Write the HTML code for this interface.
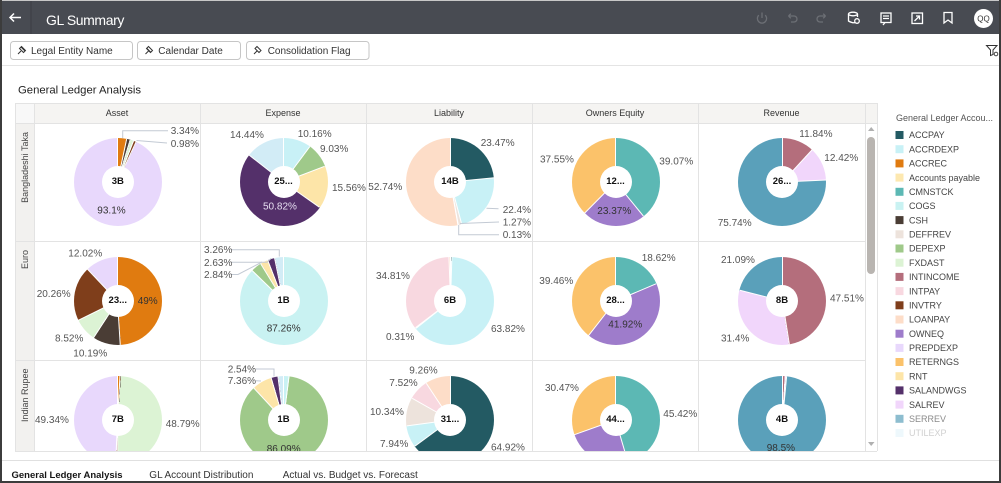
<!DOCTYPE html>
<html><head><meta charset="utf-8">
<style>
html,body{margin:0;padding:0}
body{width:1001px;height:483px;position:relative;overflow:hidden;background:#fff;font-family:"Liberation Sans",sans-serif}
#pies{position:absolute;left:0;top:0;width:877px;height:451px;overflow:hidden;z-index:1}
.pie{position:absolute;width:88px;height:88px;border-radius:50%}
.pie i{position:absolute;left:43.5px;top:0;width:1px;height:44px;background:#fff;transform-origin:50% 100%}
.pie b{position:absolute;left:28px;top:28px;width:32px;height:32px;border-radius:50%;background:#fff;font:bold 9.5px/32px "Liberation Sans",sans-serif;text-align:center;color:#111}
svg{position:absolute;left:0;top:0;z-index:2}
.l{font-size:10px;fill:#555}
.d{font-size:10px;fill:#333}
.w{font-size:10px;fill:#e6def0}
.lg{font-size:9px;fill:#444}
.ch{font-size:9px;fill:#333}
.ln{fill:none;stroke:#c3cad4;stroke-width:1}
</style></head><body>

<div id="pies">
<!-- Row 1 -->
<div class="pie" style="left:73.8px;top:138px;background:conic-gradient(#e07b10 0 3.34%,#4a3d35 0 4.64%,#dcf3d4 0 5.92%,#7f3e1b 0 6.9%,#e8d8fc 0)"><i style="transform:rotate(0deg)"></i><i style="transform:rotate(12.02deg)"></i><i style="transform:rotate(16.7deg)"></i><i style="transform:rotate(21.31deg)"></i><i style="transform:rotate(24.84deg)"></i><b>3B</b></div>
<div class="pie" style="left:239.5px;top:138px;background:conic-gradient(#c8f1f6 0 10.16%,#9fc98a 0 19.19%,#fde5a8 0 34.75%,#54306a 0 85.57%,#d2ecf6 0)"><i style="transform:rotate(0deg)"></i><i style="transform:rotate(36.58deg)"></i><i style="transform:rotate(69.08deg)"></i><i style="transform:rotate(125.1deg)"></i><i style="transform:rotate(308.05deg)"></i><b>25...</b></div>
<div class="pie" style="left:406px;top:138px;background:conic-gradient(#235a63 0 23.47%,#c8f1f6 0 45.87%,#ede3dc 0 47.14%,#f8d8e0 0 47.27%,#fdddc8 0)"><i style="transform:rotate(0deg)"></i><i style="transform:rotate(84.49deg)"></i><i style="transform:rotate(165.13deg)"></i><i style="transform:rotate(169.7deg)"></i><i style="transform:rotate(170.17deg)"></i><b>14B</b></div>
<div class="pie" style="left:571.5px;top:138px;background:conic-gradient(#5cb8b4 0 39.07%,#9e7ccb 0 62.44%,#fbc26a 0)"><i style="transform:rotate(0deg)"></i><i style="transform:rotate(140.65deg)"></i><i style="transform:rotate(224.78deg)"></i><b>12...</b></div>
<div class="pie" style="left:738px;top:138px;background:conic-gradient(#b46e7c 0 11.84%,#f1d6fb 0 24.26%,#5aa0ba 0)"><i style="transform:rotate(0deg)"></i><i style="transform:rotate(42.62deg)"></i><i style="transform:rotate(87.34deg)"></i><b>26...</b></div>
<!-- Row 2 -->
<div class="pie" style="left:73.8px;top:256.5px;background:conic-gradient(#e07b10 0 49%,#4a3d35 0 59.19%,#dcf3d4 0 67.71%,#7f3e1b 0 87.97%,#e8d8fc 0)"><i style="transform:rotate(0deg)"></i><i style="transform:rotate(176.4deg)"></i><i style="transform:rotate(213.08deg)"></i><i style="transform:rotate(243.76deg)"></i><i style="transform:rotate(316.69deg)"></i><b>23...</b></div>
<div class="pie" style="left:239.5px;top:256.5px;background:conic-gradient(#c9f2f2 0 87.26%,#9fc98a 0 91.27%,#fde5a8 0 94.11%,#54306a 0 96.74%,#d2ecf6 0)"><i style="transform:rotate(0deg)"></i><i style="transform:rotate(314.14deg)"></i><i style="transform:rotate(328.57deg)"></i><i style="transform:rotate(338.8deg)"></i><i style="transform:rotate(348.26deg)"></i><b>1B</b></div>
<div class="pie" style="left:406px;top:256.5px;background:conic-gradient(#235a63 0 0.5%,#c8f1f6 0 64.32%,#ede3dc 0 64.63%,#f8d8e0 0 99.44%,#fdddc8 0)"><i style="transform:rotate(0deg)"></i><i style="transform:rotate(1.8deg)"></i><i style="transform:rotate(231.55deg)"></i><i style="transform:rotate(232.67deg)"></i><i style="transform:rotate(357.98deg)"></i><b>6B</b></div>
<div class="pie" style="left:571.5px;top:256.5px;background:conic-gradient(#5cb8b4 0 18.62%,#9e7ccb 0 60.54%,#fbc26a 0)"><i style="transform:rotate(0deg)"></i><i style="transform:rotate(67.03deg)"></i><i style="transform:rotate(217.94deg)"></i><b>28...</b></div>
<div class="pie" style="left:738px;top:256.5px;background:conic-gradient(#b46e7c 0 47.51%,#f1d6fb 0 78.91%,#5aa0ba 0)"><i style="transform:rotate(0deg)"></i><i style="transform:rotate(171.04deg)"></i><i style="transform:rotate(284.08deg)"></i><b>8B</b></div>
<!-- Row 3 -->
<div class="pie" style="left:73.8px;top:376px;background:conic-gradient(#e07b10 0 0.9%,#4a3d35 0 1.1%,#dcf3d4 0 49.89%,#7f3e1b 0 50.66%,#e8d8fc 0)"><i style="transform:rotate(0deg)"></i><i style="transform:rotate(3.24deg)"></i><i style="transform:rotate(179.6deg)"></i><i style="transform:rotate(182.38deg)"></i><b>7B</b></div>
<div class="pie" style="left:239.5px;top:376px;background:conic-gradient(#c8f1f6 0 0.5%,#c9f2f2 0 2%,#9fc98a 0 88.09%,#fde5a8 0 95.45%,#54306a 0 97.99%,#d2ecf6 0)"><i style="transform:rotate(0deg)"></i><i style="transform:rotate(7.2deg)"></i><i style="transform:rotate(317.12deg)"></i><i style="transform:rotate(343.62deg)"></i><i style="transform:rotate(352.76deg)"></i><b>1B</b></div>
<div class="pie" style="left:406px;top:376px;background:conic-gradient(#235a63 0 64.92%,#c8f1f6 0 72.86%,#ede3dc 0 83.2%,#f8d8e0 0 90.72%,#fdddc8 0)"><i style="transform:rotate(0deg)"></i><i style="transform:rotate(233.71deg)"></i><i style="transform:rotate(262.3deg)"></i><i style="transform:rotate(299.52deg)"></i><i style="transform:rotate(326.59deg)"></i><b>31...</b></div>
<div class="pie" style="left:571.5px;top:376px;background:conic-gradient(#5cb8b4 0 45.42%,#9e7ccb 0 69.53%,#fbc26a 0)"><i style="transform:rotate(0deg)"></i><i style="transform:rotate(163.51deg)"></i><i style="transform:rotate(250.31deg)"></i><b>44...</b></div>
<div class="pie" style="left:738px;top:376px;background:conic-gradient(#b46e7c 0 1%,#f1d6fb 0 1.5%,#5aa0ba 0)"><i style="transform:rotate(0deg)"></i><i style="transform:rotate(3.6deg)"></i><i style="transform:rotate(5.4deg)"></i><b>4B</b></div>
</div>

<svg width="1001" height="483" viewBox="0 0 1001 483" xmlns="http://www.w3.org/2000/svg" font-family="Liberation Sans, sans-serif">
<defs><clipPath id="gc"><rect x="15" y="123" width="862" height="328"/></clipPath></defs>

<!-- Header -->
<rect x="0" y="0" width="1001" height="1" fill="#c8c8c8"/>
<rect x="0" y="1" width="1001" height="33" fill="#484b52"/>
<line x1="31" y1="1" x2="31" y2="34" stroke="#3c3e44" stroke-width="1"/>
<path d="M10,17.5 H21 M14,13.5 L10,17.5 L14,21.5" fill="none" stroke="#fff" stroke-width="1.5"/>
<text x="46" y="25" font-size="14" fill="#fff" letter-spacing="-0.4">GL Summary</text>
<!-- header icons -->
<g fill="none" stroke="#6c6f75" stroke-width="1.3">
<path d="M758.8,15.2 A4.6,4.6 0 1 0 765.2,15.2"/><line x1="762" y1="12.5" x2="762" y2="18"/>
<path d="M788.5,16 H794 A3,3 0 0 1 794,22 H791 M788.5,16 L790.8,13.7 M788.5,16 L790.8,18.3"/>
<path d="M825.5,16 H820 A3,3 0 0 0 820,22 H823 M825.5,16 L823.2,13.7 M825.5,16 L823.2,18.3"/>
</g>
<g fill="none" stroke="#fff" stroke-width="1.3">
<ellipse cx="853" cy="14" rx="4.5" ry="1.8"/><path d="M848.5,14 V21 Q853,23.5 855,22.5 M857.5,14 V17"/><circle cx="857" cy="21" r="2.3"/>
<rect x="881" y="13" width="10" height="9.5"/><path d="M883,16 H889 M883,18.5 H889 M885,22.5 L883,25"/>
<rect x="912" y="13" width="10.5" height="10.5"/><path d="M914.5,21 L919.5,16 M916,16 H919.5 V19.5"/>
<path d="M944,12.5 H952 V23 L948,20 L944,23 Z"/>
</g>
<circle cx="983.5" cy="18.5" r="9.5" fill="#fff"/>
<text x="983.5" y="21.5" font-size="8" fill="#333" text-anchor="middle">QQ</text>

<!-- Filter bar -->
<g fill="#fff" stroke="#c6c6c6" stroke-width="1">
<rect x="10.5" y="41.5" width="122" height="18" rx="3"/>
<rect x="137.5" y="41.5" width="103" height="18" rx="3"/>
<rect x="246.5" y="41.5" width="122.5" height="18" rx="3"/>
</g>
<g fill="none" stroke="#333" stroke-width="1">
<path d="M18,54 L21,51 M19.5,48.5 L23.5,52.5 M21,47 L25,51 M21.5,46.5 L25.5,50.5 L23.5,52.5 L19.5,48.5 Z"/>
<path d="M145.5,54 L148.5,51 M147,48.5 L151,52.5 M148.5,46.5 L152.5,50.5 L150.5,52.5 L146.5,48.5 Z"/>
<path d="M254,54 L257,51 M257,46.5 L261,50.5 L259,52.5 L255,48.5 Z"/>
</g>
<text x="31" y="54" font-size="10" fill="#333">Legal Entity Name</text>
<text x="158.3" y="54" font-size="10" fill="#333">Calendar Date</text>
<text x="267.7" y="54" font-size="10" fill="#333">Consolidation Flag</text>
<path d="M986.5,45.5 H997 L993,50 V54.5 L990.5,55.5 V50 Z" fill="none" stroke="#333" stroke-width="1"/>
<circle cx="996" cy="54" r="1.8" fill="none" stroke="#333" stroke-width="0.9"/>
<line x1="0" y1="65.5" x2="1001" y2="65.5" stroke="#e4e4e4"/>

<text x="18" y="93.3" font-size="11.3" fill="#222">General Ledger Analysis</text>

<!-- Grid backgrounds -->
<rect x="15" y="103" width="862" height="20" fill="#f5f4f2"/>
<rect x="15" y="103" width="19" height="20" fill="#f8f8f8"/>
<rect x="15" y="123" width="19" height="328" fill="#f2f1ef"/>
<g stroke="#e3e3e3" stroke-width="1">
<line x1="15" y1="103.5" x2="877" y2="103.5"/>
<line x1="15" y1="123.5" x2="877" y2="123.5"/>
<line x1="15" y1="241.5" x2="865" y2="241.5"/>
<line x1="15" y1="360.5" x2="865" y2="360.5"/>
<line x1="15" y1="451.5" x2="877" y2="451.5"/>
<line x1="15.5" y1="103" x2="15.5" y2="451"/>
<line x1="34.5" y1="103" x2="34.5" y2="451"/>
<line x1="200.5" y1="103" x2="200.5" y2="451"/>
<line x1="366.5" y1="103" x2="366.5" y2="451"/>
<line x1="532.5" y1="103" x2="532.5" y2="451"/>
<line x1="698.5" y1="103" x2="698.5" y2="451"/>
<line x1="865.5" y1="103" x2="865.5" y2="451"/>
<line x1="877.5" y1="103" x2="877.5" y2="451"/>
</g>
<text class="ch" x="117" y="116" text-anchor="middle">Asset</text>
<text class="ch" x="283" y="116" text-anchor="middle">Expense</text>
<text class="ch" x="449" y="116" text-anchor="middle">Liability</text>
<text class="ch" x="615" y="116" text-anchor="middle">Owners Equity</text>
<text class="ch" x="781.5" y="116" text-anchor="middle">Revenue</text>
<text font-size="9" fill="#444" text-anchor="end" transform="translate(28,132) rotate(-90)">Bangladeshi Taka</text>
<text font-size="9" fill="#444" text-anchor="end" transform="translate(28,250) rotate(-90)">Euro</text>
<text font-size="9" fill="#444" text-anchor="end" transform="translate(28,368.5) rotate(-90)">Indian Rupee</text>

<!-- Scrollbar -->
<polygon points="868,131 874.5,131 871.2,127" fill="#b0b0b0"/>
<rect x="867" y="137" width="8" height="137" rx="4" fill="#b9b5b1"/>
<polygon points="868,442 874.5,442 871.2,446" fill="#b0b0b0"/>

<!-- Leader lines -->
<polyline class="ln" points="168,130.7 122.7,130.7 122.7,138"/>
<polyline class="ln" points="167,143 136.5,140.5"/>
<line class="ln" x1="498.5" y1="208.8" x2="486.5" y2="208.3"/>
<polyline class="ln" points="499,222 460,223.5"/>
<polyline class="ln" points="499,234.7 458.7,234.7 458.7,225"/>
<polyline class="ln" points="231,249.7 279.3,249.7 279.3,256.5"/>
<polyline class="ln" points="231,262.3 267,262.3 271,258.5"/>
<polyline class="ln" points="231,274.5 238,274.5 262,262"/>
<polyline class="ln" points="256,369 274,369 274,376.5"/>
<line class="ln" x1="256" y1="380.7" x2="261" y2="381"/>

<!-- Labels row 1 -->
<text class="l" x="170.7" y="134.2">3.34%</text>
<text class="l" x="170.7" y="146.8">0.98%</text>
<text class="d" x="97.3" y="213.5">93.1%</text>
<text class="l" x="230" y="137.8">14.44%</text>
<text class="l" x="297.7" y="136.8">10.16%</text>
<text class="l" x="320" y="151.8">9.03%</text>
<text class="l" x="332" y="190.8">15.56%</text>
<text class="w" x="263" y="209.5">50.82%</text>
<text class="l" x="480.7" y="145.8">23.47%</text>
<text class="l" x="368.3" y="190.2">52.74%</text>
<text class="l" x="502.7" y="212.8">22.4%</text>
<text class="l" x="502.7" y="225.5">1.27%</text>
<text class="l" x="502.7" y="238.2">0.13%</text>
<text class="l" x="540" y="162.5">37.55%</text>
<text class="l" x="659.3" y="164.5">39.07%</text>
<text class="d" x="597.3" y="214.2">23.37%</text>
<text class="l" x="799.3" y="136.8">11.84%</text>
<text class="l" x="824.3" y="160.8">12.42%</text>
<text class="l" x="717.7" y="225.8">75.74%</text>

<!-- Labels row 2 -->
<text class="l" x="68.3" y="256.5">12.02%</text>
<text class="l" x="36.7" y="296.8">20.26%</text>
<text class="l" x="55" y="341.5">8.52%</text>
<text class="l" x="73.3" y="356.5">10.19%</text>
<text class="d" x="137.7" y="303.8">49%</text>
<text class="l" x="204" y="253.2">3.26%</text>
<text class="l" x="204" y="265.8">2.63%</text>
<text class="l" x="204" y="278.2">2.84%</text>
<text class="d" x="266.7" y="331.5">87.26%</text>
<text class="l" x="376" y="278.8">34.81%</text>
<text class="l" x="386" y="339.8">0.31%</text>
<text class="l" x="491" y="332.2">63.82%</text>
<text class="l" x="641.7" y="260.8">18.62%</text>
<text class="l" x="539.3" y="284.2">39.46%</text>
<text class="d" x="608.3" y="327.5">41.92%</text>
<text class="l" x="721" y="263.2">21.09%</text>
<text class="l" x="830" y="301.5">47.51%</text>
<text class="l" x="721" y="341.5">31.4%</text>

<!-- Labels row 3 (clipped) -->
<g clip-path="url(#gc)">
<text class="l" x="35" y="422.8">49.34%</text>
<text class="l" x="165.7" y="426.8">48.79%</text>
<text class="l" x="227.7" y="372.5">2.54%</text>
<text class="l" x="227.7" y="384.2">7.36%</text>
<text class="d" x="266.7" y="451.8">86.09%</text>
<text class="l" x="409.3" y="373.5">9.26%</text>
<text class="l" x="389.3" y="385.8">7.52%</text>
<text class="l" x="370" y="415.2">10.34%</text>
<text class="l" x="380" y="446.8">7.94%</text>
<text class="l" x="491" y="450.5">64.92%</text>
<text class="l" x="545" y="390.8">30.47%</text>
<text class="l" x="663.3" y="417.2">45.42%</text>
<text class="d" x="766.7" y="451.2">98.5%</text>
</g>

<!-- Legend -->
<text x="896" y="121" font-size="9" fill="#555">General Ledger Accou...</text>
<g>
<rect x="895.5" y="131" width="8" height="8" fill="#235a63"/><text class="lg" x="909" y="138.2">ACCPAY</text>
<rect x="895.5" y="145.2" width="8" height="8" fill="#c8f1f6"/><text class="lg" x="909" y="152.4">ACCRDEXP</text>
<rect x="895.5" y="159.4" width="8" height="8" fill="#e07b10"/><text class="lg" x="909" y="166.6">ACCREC</text>
<rect x="895.5" y="173.6" width="8" height="8" fill="#fde8b0"/><text class="lg" x="909" y="180.8">Accounts payable</text>
<rect x="895.5" y="187.8" width="8" height="8" fill="#5cb8b4"/><text class="lg" x="909" y="195">CMNSTCK</text>
<rect x="895.5" y="201.9" width="8" height="8" fill="#c9f2f2"/><text class="lg" x="909" y="209.1">COGS</text>
<rect x="895.5" y="216.1" width="8" height="8" fill="#4a3d35"/><text class="lg" x="909" y="223.3">CSH</text>
<rect x="895.5" y="230.3" width="8" height="8" fill="#ede3dc"/><text class="lg" x="909" y="237.5">DEFFREV</text>
<rect x="895.5" y="244.5" width="8" height="8" fill="#9fc98a"/><text class="lg" x="909" y="251.7">DEPEXP</text>
<rect x="895.5" y="258.7" width="8" height="8" fill="#dcf3d4"/><text class="lg" x="909" y="265.9">FXDAST</text>
<rect x="895.5" y="272.9" width="8" height="8" fill="#b46e7c"/><text class="lg" x="909" y="280.1">INTINCOME</text>
<rect x="895.5" y="287.1" width="8" height="8" fill="#f8d8e0"/><text class="lg" x="909" y="294.3">INTPAY</text>
<rect x="895.5" y="301.3" width="8" height="8" fill="#7f3e1b"/><text class="lg" x="909" y="308.5">INVTRY</text>
<rect x="895.5" y="315.5" width="8" height="8" fill="#fdddc8"/><text class="lg" x="909" y="322.7">LOANPAY</text>
<rect x="895.5" y="329.7" width="8" height="8" fill="#9e7ccb"/><text class="lg" x="909" y="336.9">OWNEQ</text>
<rect x="895.5" y="343.9" width="8" height="8" fill="#e8d8fc"/><text class="lg" x="909" y="351.1">PREPDEXP</text>
<rect x="895.5" y="358" width="8" height="8" fill="#fbc26a"/><text class="lg" x="909" y="365.2">RETERNGS</text>
<rect x="895.5" y="372.2" width="8" height="8" fill="#fde5a8"/><text class="lg" x="909" y="379.4">RNT</text>
<rect x="895.5" y="386.4" width="8" height="8" fill="#54306a"/><text class="lg" x="909" y="393.6">SALANDWGS</text>
<rect x="895.5" y="400.6" width="8" height="8" fill="#f1d6fb"/><text class="lg" x="909" y="407.8">SALREV</text>
<rect x="895.5" y="414.8" width="8" height="8" fill="#8dbdcf"/><text x="909" y="422" font-size="9" fill="#8a8a8a">SERREV</text>
<rect x="895.5" y="429" width="8" height="8" fill="#eef8fc"/><text x="909" y="436.2" font-size="9" fill="#d0d0d0">UTILEXP</text>
</g>

<!-- Bottom tabs -->
<line x1="0" y1="460.5" x2="1001" y2="460.5" stroke="#e0e0e0"/>
<text x="11.5" y="477.8" font-size="9.5" font-weight="bold" fill="#161616">General Ledger Analysis</text>
<text x="149.3" y="477.8" font-size="10" fill="#333">GL Account Distribution</text>
<text x="282.7" y="477.8" font-size="10" fill="#333">Actual vs. Budget vs. Forecast</text>

<!-- Outer frame -->
<rect x="0" y="0" width="2" height="483" fill="#3c3c3c"/>
<rect x="999" y="0" width="2" height="483" fill="#3c3c3c"/>
<rect x="0" y="481" width="1001" height="2" fill="#3c3c3c"/>
</svg>
</body></html>
